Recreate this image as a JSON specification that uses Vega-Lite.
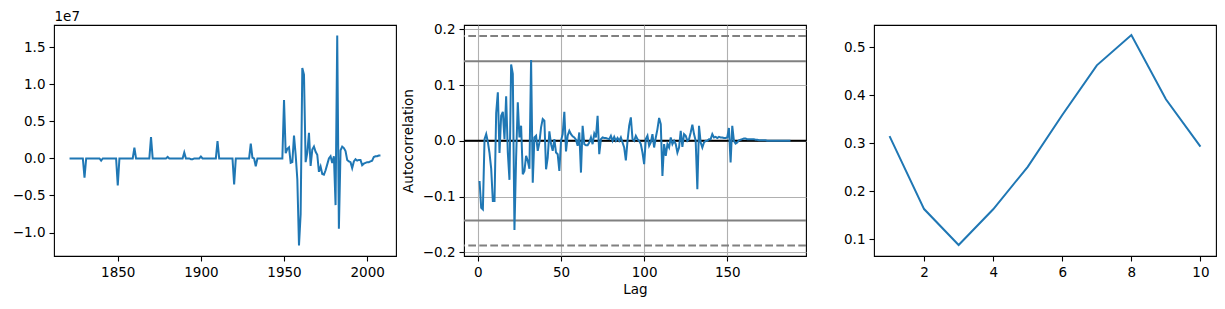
{
  "$schema": "https://vega.github.io/schema/vega-lite/v6.json",
  "background": "white",
  "padding": {"left": 11, "top": 8, "right": 5, "bottom": 5},
  "config": {
    "font": "DejaVu Sans",
    "view": {"stroke": "black", "strokeWidth": 1.1},
    "axis": {"domain": false, "grid": false, "tickColor": "black", "tickSize": 5, "tickWidth": 1.1, "labelFont": "DejaVu Sans", "labelFontSize": 13.5, "labelColor": "black", "labelPadding": 4, "titleFont": "DejaVu Sans", "titleFontSize": 13.5, "titleFontWeight": "normal", "titleColor": "black", "labelFlush": false, "labelOverlap": false}
  },
  "spacing": 68,
  "bounds": "flush",
  "datasets": {
    "series": [
      {"year":1821,"value":0},{"year":1822,"value":0},{"year":1823,"value":0},{"year":1824,"value":0},{"year":1825,"value":0},{"year":1826,"value":0},{"year":1827,"value":0},{"year":1828,"value":0},{"year":1829,"value":0},{"year":1830,"value":-2600000},
      {"year":1831,"value":0},{"year":1832,"value":0},{"year":1833,"value":0},{"year":1834,"value":0},{"year":1835,"value":0},{"year":1836,"value":0},{"year":1837,"value":0},{"year":1838,"value":0},{"year":1839,"value":0},{"year":1840,"value":-300000},
      {"year":1841,"value":0},{"year":1842,"value":0},{"year":1843,"value":0},{"year":1844,"value":0},{"year":1845,"value":0},{"year":1846,"value":0},{"year":1847,"value":0},{"year":1848,"value":0},{"year":1849,"value":0},{"year":1850,"value":-3650000},
      {"year":1851,"value":0},{"year":1852,"value":0},{"year":1853,"value":0},{"year":1854,"value":0},{"year":1855,"value":0},{"year":1856,"value":0},{"year":1857,"value":0},{"year":1858,"value":0},{"year":1859,"value":0},{"year":1860,"value":1450000},
      {"year":1861,"value":0},{"year":1862,"value":0},{"year":1863,"value":0},{"year":1864,"value":0},{"year":1865,"value":0},{"year":1866,"value":0},{"year":1867,"value":0},{"year":1868,"value":0},{"year":1869,"value":0},{"year":1870,"value":2900000},
      {"year":1871,"value":0},{"year":1872,"value":0},{"year":1873,"value":0},{"year":1874,"value":0},{"year":1875,"value":0},{"year":1876,"value":0},{"year":1877,"value":0},{"year":1878,"value":0},{"year":1879,"value":0},{"year":1880,"value":200000},
      {"year":1881,"value":0},{"year":1882,"value":0},{"year":1883,"value":0},{"year":1884,"value":0},{"year":1885,"value":0},{"year":1886,"value":0},{"year":1887,"value":0},{"year":1888,"value":0},{"year":1889,"value":0},{"year":1890,"value":800000},
      {"year":1891,"value":0},{"year":1892,"value":0},{"year":1893,"value":0},{"year":1894,"value":-100000},{"year":1895,"value":-100000},{"year":1896,"value":0},{"year":1897,"value":0},{"year":1898,"value":0},{"year":1899,"value":0},{"year":1900,"value":250000},
      {"year":1901,"value":0},{"year":1902,"value":0},{"year":1903,"value":0},{"year":1904,"value":0},{"year":1905,"value":0},{"year":1906,"value":0},{"year":1907,"value":0},{"year":1908,"value":0},{"year":1909,"value":0},{"year":1910,"value":2350000},
      {"year":1911,"value":0},{"year":1912,"value":0},{"year":1913,"value":0},{"year":1914,"value":0},{"year":1915,"value":0},{"year":1916,"value":0},{"year":1917,"value":0},{"year":1918,"value":0},{"year":1919,"value":0},{"year":1920,"value":-3500000},
      {"year":1921,"value":0},{"year":1922,"value":0},{"year":1923,"value":0},{"year":1924,"value":0},{"year":1925,"value":0},{"year":1926,"value":0},{"year":1927,"value":0},{"year":1928,"value":0},{"year":1929,"value":0},{"year":1930,"value":2000000},
      {"year":1931,"value":100000},{"year":1932,"value":0},{"year":1933,"value":-1050000},{"year":1934,"value":0},{"year":1935,"value":0},{"year":1936,"value":0},{"year":1937,"value":0},{"year":1938,"value":0},{"year":1939,"value":0},{"year":1940,"value":0},
      {"year":1941,"value":0},{"year":1942,"value":0},{"year":1943,"value":0},{"year":1944,"value":0},{"year":1945,"value":0},{"year":1946,"value":0},{"year":1947,"value":0},{"year":1948,"value":0},{"year":1949,"value":0},{"year":1950,"value":7900000},
      {"year":1951,"value":700000},{"year":1952,"value":1300000},{"year":1953,"value":1500000},{"year":1954,"value":-600000},{"year":1955,"value":-500000},{"year":1956,"value":3100000},{"year":1957,"value":500000},{"year":1958,"value":-2800000},{"year":1959,"value":-11750000},{"year":1960,"value":-7500000},
      {"year":1961,"value":12200000},{"year":1962,"value":11300000},{"year":1963,"value":-500000},{"year":1964,"value":800000},{"year":1965,"value":3450000},{"year":1966,"value":-1000000},{"year":1967,"value":1200000},{"year":1968,"value":1600000},{"year":1969,"value":900000},{"year":1970,"value":500000},
      {"year":1971,"value":-1800000},{"year":1972,"value":-1100000},{"year":1973,"value":-2100000},{"year":1974,"value":-2200000},{"year":1975,"value":-1600000},{"year":1976,"value":-800000},{"year":1977,"value":0},{"year":1978,"value":300000},{"year":1979,"value":-600000},{"year":1980,"value":300000},
      {"year":1981,"value":-6300000},{"year":1982,"value":16600000},{"year":1983,"value":-9500000},{"year":1984,"value":1100000},{"year":1985,"value":1600000},{"year":1986,"value":1400000},{"year":1987,"value":1000000},{"year":1988,"value":-200000},{"year":1989,"value":-400000},{"year":1990,"value":-500000},
      {"year":1991,"value":-1300000},{"year":1992,"value":-400000},{"year":1993,"value":-100000},{"year":1994,"value":-300000},{"year":1995,"value":-200000},{"year":1996,"value":-200000},{"year":1997,"value":-900000},{"year":1998,"value":-700000},{"year":1999,"value":-600000},{"year":2000,"value":-500000},
      {"year":2001,"value":-500000},{"year":2002,"value":-400000},{"year":2003,"value":-300000},{"year":2004,"value":200000},{"year":2005,"value":300000},{"year":2006,"value":300000},{"year":2007,"value":400000},{"year":2008,"value":400000}
    ],
    "acf": [
      {"lag":1,"acf":-0.072},{"lag":2,"acf":-0.12},{"lag":3,"acf":-0.123},{"lag":4,"acf":0.003},{"lag":5,"acf":0.012},{"lag":6,"acf":-0.002},{"lag":7,"acf":-0.022},{"lag":8,"acf":-0.05},{"lag":9,"acf":-0.108},{"lag":10,"acf":-0.108},
      {"lag":11,"acf":0.05},{"lag":12,"acf":0.087},{"lag":13,"acf":-0.022},{"lag":14,"acf":0.045},{"lag":15,"acf":0.052},{"lag":16,"acf":0.003},{"lag":17,"acf":0.08},{"lag":18,"acf":-0.021},{"lag":19,"acf":-0.07},{"lag":20,"acf":0.137},
      {"lag":21,"acf":0.12},{"lag":22,"acf":-0.16},{"lag":23,"acf":-0.03},{"lag":24,"acf":0.069},{"lag":25,"acf":0.006},{"lag":26,"acf":0.027},{"lag":27,"acf":-0.06},{"lag":28,"acf":-0.054},{"lag":29,"acf":-0.027},{"lag":30,"acf":-0.036},
      {"lag":31,"acf":-0.05},{"lag":32,"acf":0.145},{"lag":33,"acf":-0.075},{"lag":34,"acf":0.006},{"lag":35,"acf":0.009},{"lag":36,"acf":-0.018},{"lag":37,"acf":-0.003},{"lag":38,"acf":0.024},{"lag":39,"acf":0.039},{"lag":40,"acf":0.036},
      {"lag":41,"acf":-0.051},{"lag":42,"acf":-0.03},{"lag":43,"acf":0.017},{"lag":44,"acf":-0.006},{"lag":45,"acf":-0.018},{"lag":46,"acf":0.003},{"lag":47,"acf":-0.021},{"lag":48,"acf":-0.024},{"lag":49,"acf":-0.054},{"lag":50,"acf":0.0},
      {"lag":51,"acf":0.012},{"lag":52,"acf":0.052},{"lag":53,"acf":-0.019},{"lag":54,"acf":0.009},{"lag":55,"acf":0.018},{"lag":56,"acf":0.012},{"lag":57,"acf":0.008},{"lag":58,"acf":0.006},{"lag":59,"acf":0.002},{"lag":60,"acf":-0.009},
      {"lag":61,"acf":0.015},{"lag":62,"acf":-0.057},{"lag":63,"acf":0.027},{"lag":64,"acf":-0.006},{"lag":65,"acf":-0.008},{"lag":66,"acf":-0.008},{"lag":67,"acf":-0.003},{"lag":68,"acf":0.006},{"lag":69,"acf":-0.006},{"lag":70,"acf":0.013},
      {"lag":71,"acf":0.006},{"lag":72,"acf":0.045},{"lag":73,"acf":-0.024},{"lag":74,"acf":0.003},{"lag":75,"acf":0.006},{"lag":76,"acf":0.005},{"lag":77,"acf":0.005},{"lag":78,"acf":0.004},{"lag":79,"acf":0.003},{"lag":80,"acf":0.009},
      {"lag":81,"acf":0.0},{"lag":82,"acf":0.007},{"lag":83,"acf":0.0},{"lag":84,"acf":0.005},{"lag":85,"acf":0.0},{"lag":86,"acf":0.006},{"lag":87,"acf":-0.003},{"lag":88,"acf":-0.012},{"lag":89,"acf":-0.035},{"lag":90,"acf":0.0},
      {"lag":91,"acf":0.027},{"lag":92,"acf":0.042},{"lag":93,"acf":0.003},{"lag":94,"acf":0.0},{"lag":95,"acf":0.009},{"lag":96,"acf":0.003},{"lag":97,"acf":0.0},{"lag":98,"acf":-0.006},{"lag":99,"acf":-0.021},{"lag":100,"acf":-0.042},
      {"lag":101,"acf":0.003},{"lag":102,"acf":0.009},{"lag":103,"acf":-0.009},{"lag":104,"acf":-0.003},{"lag":105,"acf":0.012},{"lag":106,"acf":-0.012},{"lag":107,"acf":0.006},{"lag":108,"acf":0.021},{"lag":109,"acf":0.041},{"lag":110,"acf":0.03},
      {"lag":111,"acf":-0.063},{"lag":112,"acf":-0.006},{"lag":113,"acf":-0.027},{"lag":114,"acf":-0.006},{"lag":115,"acf":-0.012},{"lag":116,"acf":0.006},{"lag":117,"acf":-0.006},{"lag":118,"acf":0.0},{"lag":119,"acf":-0.006},{"lag":120,"acf":-0.021},
      {"lag":121,"acf":-0.012},{"lag":122,"acf":0.018},{"lag":123,"acf":-0.011},{"lag":124,"acf":0.012},{"lag":125,"acf":0.009},{"lag":126,"acf":0.0},{"lag":127,"acf":0.003},{"lag":128,"acf":0.015},{"lag":129,"acf":0.029},{"lag":130,"acf":0.012},
      {"lag":131,"acf":0.0},{"lag":132,"acf":-0.087},{"lag":133,"acf":0.027},{"lag":134,"acf":-0.003},{"lag":135,"acf":-0.012},{"lag":136,"acf":-0.003},{"lag":137,"acf":0.0},{"lag":138,"acf":0.0},{"lag":139,"acf":0.003},{"lag":140,"acf":0.003},
      {"lag":141,"acf":0.012},{"lag":142,"acf":0.006},{"lag":143,"acf":0.007},{"lag":144,"acf":0.005},{"lag":145,"acf":0.007},{"lag":146,"acf":0.006},{"lag":147,"acf":0.006},{"lag":148,"acf":0.005},{"lag":149,"acf":0.005},{"lag":150,"acf":0.006},
      {"lag":151,"acf":0.023},{"lag":152,"acf":-0.039},{"lag":153,"acf":0.027},{"lag":154,"acf":0.0},{"lag":155,"acf":-0.005},{"lag":156,"acf":-0.003},{"lag":157,"acf":0.001},{"lag":158,"acf":0.002},{"lag":159,"acf":0.003},{"lag":160,"acf":0.004},
      {"lag":161,"acf":0.004},{"lag":162,"acf":0.003},{"lag":163,"acf":0.003},{"lag":164,"acf":0.003},{"lag":165,"acf":0.003},{"lag":166,"acf":0.003},{"lag":167,"acf":0.002},{"lag":168,"acf":0.002},{"lag":169,"acf":0.001},{"lag":170,"acf":0.001},
      {"lag":171,"acf":0.001},{"lag":172,"acf":0.001},{"lag":173,"acf":0.001},{"lag":174,"acf":0.0},{"lag":175,"acf":0.0},{"lag":176,"acf":0.0},{"lag":177,"acf":0.0},{"lag":178,"acf":0.0},{"lag":179,"acf":0.0},{"lag":180,"acf":0.0},
      {"lag":181,"acf":0.0},{"lag":182,"acf":0.0},{"lag":183,"acf":0.0},{"lag":184,"acf":0.0},{"lag":185,"acf":0.0},{"lag":186,"acf":0.0},{"lag":187,"acf":0.0},{"lag":188,"acf":0.0}
    ],
    "bands": [
      {"level": 0.1879, "kind": "99"},
      {"level": 0.1429, "kind": "95"},
      {"level": 0.0, "kind": "zero"},
      {"level": -0.1429, "kind": "95"},
      {"level": -0.1879, "kind": "99"}
    ],
    "third": [
      {"x":1,"y":0.315},{"x":2,"y":0.163},{"x":3,"y":0.088},{"x":4,"y":0.1625},{"x":5,"y":0.251},
      {"x":6,"y":0.359},{"x":7,"y":0.4625},{"x":8,"y":0.5255},{"x":9,"y":0.3917},{"x":10,"y":0.2931}
    ]
  },
  "hconcat": [
    {
      "width": 342, "height": 231,
      "data": {"name": "series"},
      "mark": {"type": "line", "color": "#1f77b4", "strokeWidth": 2},
      "encoding": {
        "x": {"field": "year", "type": "quantitative", "scale": {"domain": [1811.65, 2017.35], "nice": false, "zero": false}, "axis": {"values": [1850, 1900, 1950, 2000], "format": "d", "title": null}},
        "y": {"field": "value", "type": "quantitative", "scale": {"domain": [-13170000, 18015000], "nice": false, "zero": false}, "axis": {"values": [-10000000, -5000000, 0, 5000000, 10000000, 15000000], "labelExpr": "format(datum.value / 10000000, '.1f')", "title": "1e7", "titleAngle": 0, "titleX": 0, "titleY": -5, "titleAlign": "left", "titleBaseline": "alphabetic"}}
      }
    },
    {
      "width": 342, "height": 231,
      "layer": [
        {
          "data": {"name": "bands"},
          "transform": [{"filter": "datum.kind === '99'"}],
          "mark": {"type": "rule", "color": "#808080", "strokeWidth": 2, "strokeDash": [7.7, 3.3]},
          "encoding": {"y": {"field": "level", "type": "quantitative"}}
        },
        {
          "data": {"name": "bands"},
          "transform": [{"filter": "datum.kind === '95'"}],
          "mark": {"type": "rule", "color": "#808080", "strokeWidth": 2},
          "encoding": {"y": {"field": "level", "type": "quantitative"}}
        },
        {
          "data": {"name": "bands"},
          "transform": [{"filter": "datum.kind === 'zero'"}],
          "mark": {"type": "rule", "color": "black", "strokeWidth": 2},
          "encoding": {"y": {"field": "level", "type": "quantitative"}}
        },
        {
          "data": {"name": "acf"},
          "mark": {"type": "line", "color": "#1f77b4", "strokeWidth": 2},
          "encoding": {
            "x": {"field": "lag", "type": "quantitative", "scale": {"domain": [-8.35, 197.35], "nice": false, "zero": false}, "axis": {"values": [0, 50, 100, 150], "title": "Lag", "grid": true, "gridColor": "#b0b0b0", "gridWidth": 1.1, "titlePadding": 4}},
            "y": {"field": "acf", "type": "quantitative", "scale": {"domain": [-0.2066, 0.2077], "nice": false, "zero": false}, "axis": {"values": [-0.2, -0.1, 0, 0.1, 0.2], "format": ".1f", "title": "Autocorrelation", "grid": true, "gridColor": "#b0b0b0", "gridWidth": 1.1, "titlePadding": 7}}
          }
        }
      ]
    },
    {
      "width": 342, "height": 231,
      "data": {"name": "third"},
      "mark": {"type": "line", "color": "#1f77b4", "strokeWidth": 2},
      "encoding": {
        "x": {"field": "x", "type": "quantitative", "scale": {"domain": [0.55, 10.45], "nice": false, "zero": false}, "axis": {"values": [2, 4, 6, 8, 10], "title": null}},
        "y": {"field": "y", "type": "quantitative", "scale": {"domain": [0.0652, 0.5465], "nice": false, "zero": false}, "axis": {"values": [0.1, 0.2, 0.3, 0.4, 0.5], "format": ".1f", "title": null}}
      }
    }
  ]
}
